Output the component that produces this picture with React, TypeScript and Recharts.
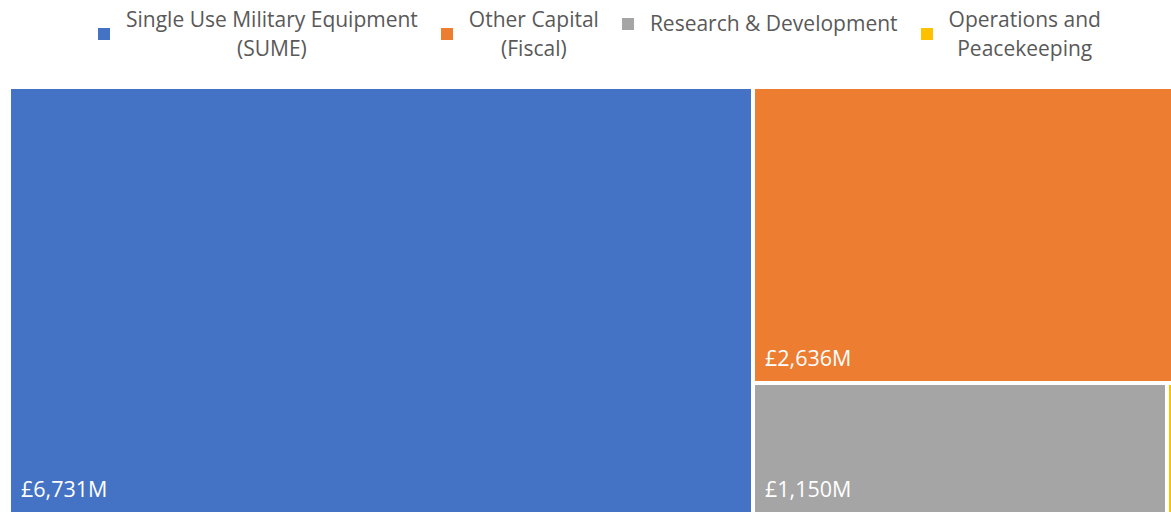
import { Treemap } from 'recharts'

const categories = [
  'Single Use Military Equipment (SUME)',
  'Other Capital (Fiscal)',
  'Research & Development',
  'Operations and Peacekeeping',
]
const spendValues = [6731, 2636, 1150, 15] // £M
const colors = ['#4472C4', '#ED7D31', '#A5A5A5', '#FFC000']
const legendLines = [
  ['Single Use Military Equipment', '(SUME)'],
  ['Other Capital', '(Fiscal)'],
  ['Research & Development'],
  ['Operations and', 'Peacekeeping'],
]

const FONT = '"Open Sans", "Noto Sans", sans-serif'

const data = categories.map((name, i) => ({
  name,
  value: spendValues[i],
  fill: colors[i],
}))

const fmt = (v: number) => `£${v.toLocaleString('en-GB')}M`

function Cell(props: any) {
  const { x, y, width, height, depth, fill, value } = props
  if (depth !== 1) return null
  const w = Math.max(width - 4, 1.4)
  const h = Math.max(height - 4, 1.4)
  const showLabel = width > 80 && height > 40
  return (
    <g>
      <rect x={x + (width - w) / 2} y={y + (height - h) / 2} width={w} height={h} fill={fill} />
      {showLabel && (
        <text
          x={x + 12}
          y={y + height - 17}
          fill="#fff"
          fontSize={21.5}
          fontFamily={FONT}
        >
          {fmt(value)}
        </text>
      )}
    </g>
  )
}

function Legend() {
  return (
    <div
      style={{
        display: 'flex',
        alignItems: 'flex-start',
        paddingLeft: 98,
        paddingTop: 5,
        height: 82,
        boxSizing: 'border-box',
        fontFamily: FONT,
        fontSize: 21,
        color: '#595959',
        whiteSpace: 'nowrap',
      }}
    >
      {legendLines.map((lines, i) => (
        <div
          key={i}
          style={{
            display: 'flex',
            alignItems: 'center',
            marginRight: 23,
            marginTop: lines.length === 1 ? 4 : 0,
          }}
        >
          <div style={{ width: 12, height: 12, background: colors[i], marginRight: 16 }} />
          <div style={{ textAlign: 'center', lineHeight: '29px' }}>
            {lines.map((l, j) => (
              <div key={j}>{l}</div>
            ))}
          </div>
        </div>
      ))}
    </div>
  )
}

export default function App() {
  return (
    <div
      style={{
        position: 'absolute',
        left: 0,
        top: 0,
        width: 1171,
        height: 524,
        overflow: 'hidden',
        background: '#fff',
      }}
    >
      <Legend />
      <div style={{ position: 'absolute', left: 9, top: 87 }}>
        <Treemap
          width={1164}
          height={427}
          data={data}
          dataKey="value"
          nameKey="name"
          aspectRatio={1}
          isAnimationActive={false}
          content={<Cell />}
        />
      </div>
    </div>
  )
}
